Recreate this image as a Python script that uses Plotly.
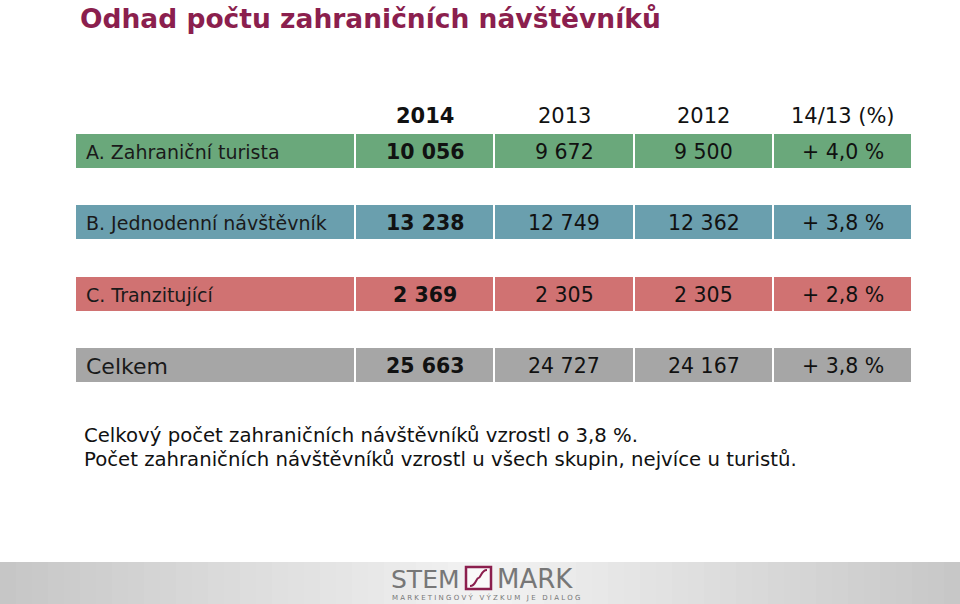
import plotly.graph_objects as go

# ---- data ----
categories = ["A. Zahraniční turista", "B. Jednodenní návštěvník", "C. Tranzitující", "Celkem"]
v2014 = [10056, 13238, 2369, 25663]
v2013 = [9672, 12749, 2305, 24727]
v2012 = [9500, 12362, 2305, 24167]
pct_change = [4.0, 3.8, 2.8, 3.8]
headers = ["2014", "2013", "2012", "14/13 (%)"]
title_text = "Odhad počtu zahraničních návštěvníků"
notes = ["Celkový počet zahraničních návštěvníků vzrostl o 3,8 %.",
         "Počet zahraničních návštěvníků vzrostl u všech skupin, nejvíce u turistů."]

# ---- styling ----
row_colors = ["#6aa87b", "#6a9fae", "#d07272", "#a6a6a6"]
col_edges = [(76, 354), (356, 493), (495, 633), (635, 772), (774, 911)]
row_tops = [134, 205, 277, 348]
row_h = 34
FONT = "DejaVu Sans"
TXT = "#111111"


def fmt_int(v):
    return f"{v:,}".replace(",", " ")


def fmt_pct(p):
    return "+ " + f"{p:.1f}".replace(".", ",") + " %"


fig = go.Figure()
shapes = []

# cells
for r, top in enumerate(row_tops):
    for (x0, x1) in col_edges:
        shapes.append(dict(type="rect", xref="x", yref="y", x0=x0, x1=x1,
                           y0=top, y1=top + row_h, fillcolor=row_colors[r],
                           line=dict(width=0), layer="below"))

# footer gradient band
n = 60
for i in range(n):
    x0 = i * 960 / n
    x1 = (i + 1) * 960 / n + 0.5
    t = abs((x0 + x1) / 2 - 485) / 485
    g = int(243 - 45 * t)
    shapes.append(dict(type="rect", xref="x", yref="y", x0=x0, x1=x1, y0=562, y1=604,
                       fillcolor=f"rgb({g},{g},{g})", line=dict(width=0), layer="below"))

# logo box
shapes.append(dict(type="rect", xref="x", yref="y", x0=466, x1=491, y0=567, y1=589,
                   fillcolor="rgba(255,255,255,0.6)", line=dict(color="#8b1f4e", width=2.5)))
shapes.append(dict(type="path", xref="x", yref="y",
                   path="M 470 586 C 476 586, 476 578, 478.5 578 C 481 578, 481 570, 487 570",
                   line=dict(color="#8b1f4e", width=2)))

# headers
centers = [(a + b) / 2 for a, b in col_edges[1:]]
for j, h in enumerate(headers):
    fig.add_annotation(x=centers[j], y=116, text=("<b>" + h + "</b>") if j == 0 else h,
                       showarrow=False, font=dict(family=FONT, size=21, color=TXT),
                       xanchor="center", yanchor="middle")

# rows
for r, cat in enumerate(categories):
    yc = row_tops[r] + row_h / 2 + 1
    fig.add_annotation(x=84, y=yc, text=cat, showarrow=False, xanchor="left", yanchor="middle",
                       font=dict(family=FONT, size=22 if r == 3 else 19, color="#1a1a1a"))
    vals = ["<b>" + fmt_int(v2014[r]) + "</b>", fmt_int(v2013[r]), fmt_int(v2012[r]), fmt_pct(pct_change[r])]
    for j, t in enumerate(vals):
        fig.add_annotation(x=centers[j], y=yc, text=t, showarrow=False, xanchor="center",
                           yanchor="middle", font=dict(family=FONT, size=20.5, color=TXT))

# title
fig.add_annotation(x=78, y=18, text="<b>" + title_text + "</b>", showarrow=False,
                   xanchor="left", yanchor="middle",
                   font=dict(family=FONT, size=26.5, color="#8b1f4e"))

# notes
for k, line in enumerate(notes):
    fig.add_annotation(x=82, y=435 + 24 * k, text=line, showarrow=False, xanchor="left",
                       yanchor="middle",
                       font=dict(family=FONT, size=19.7, color=TXT))

# logo text
fig.add_annotation(x=462, y=579, text="STEM", showarrow=False, xanchor="right", yanchor="middle",
                   font=dict(family="DejaVu Sans ExtraLight, DejaVu Sans", size=25, color="#777777"))
fig.add_annotation(x=495, y=579, text="MARK", showarrow=False, xanchor="left", yanchor="middle",
                   font=dict(family="DejaVu Sans ExtraLight, DejaVu Sans", size=26, color="#777777"))
fig.add_annotation(x=486, y=597, text="M A R K E T I N G O V Ý   V Ý Z K U M   J E   D I A L O G",
                   showarrow=False, xanchor="center", yanchor="middle",
                   font=dict(family=FONT, size=7, color="#777777"))

fig.update_layout(
    width=960, height=604, margin=dict(l=0, r=0, t=0, b=0),
    paper_bgcolor="white", plot_bgcolor="white", shapes=shapes, showlegend=False,
    xaxis=dict(range=[0, 960], visible=False, fixedrange=True),
    yaxis=dict(range=[604, 0], visible=False, fixedrange=True),
)
fig.write_html("out.html", config={"displayModeBar": False},
               post_script="document.body.style.margin='0';document.body.style.overflow='hidden';")
